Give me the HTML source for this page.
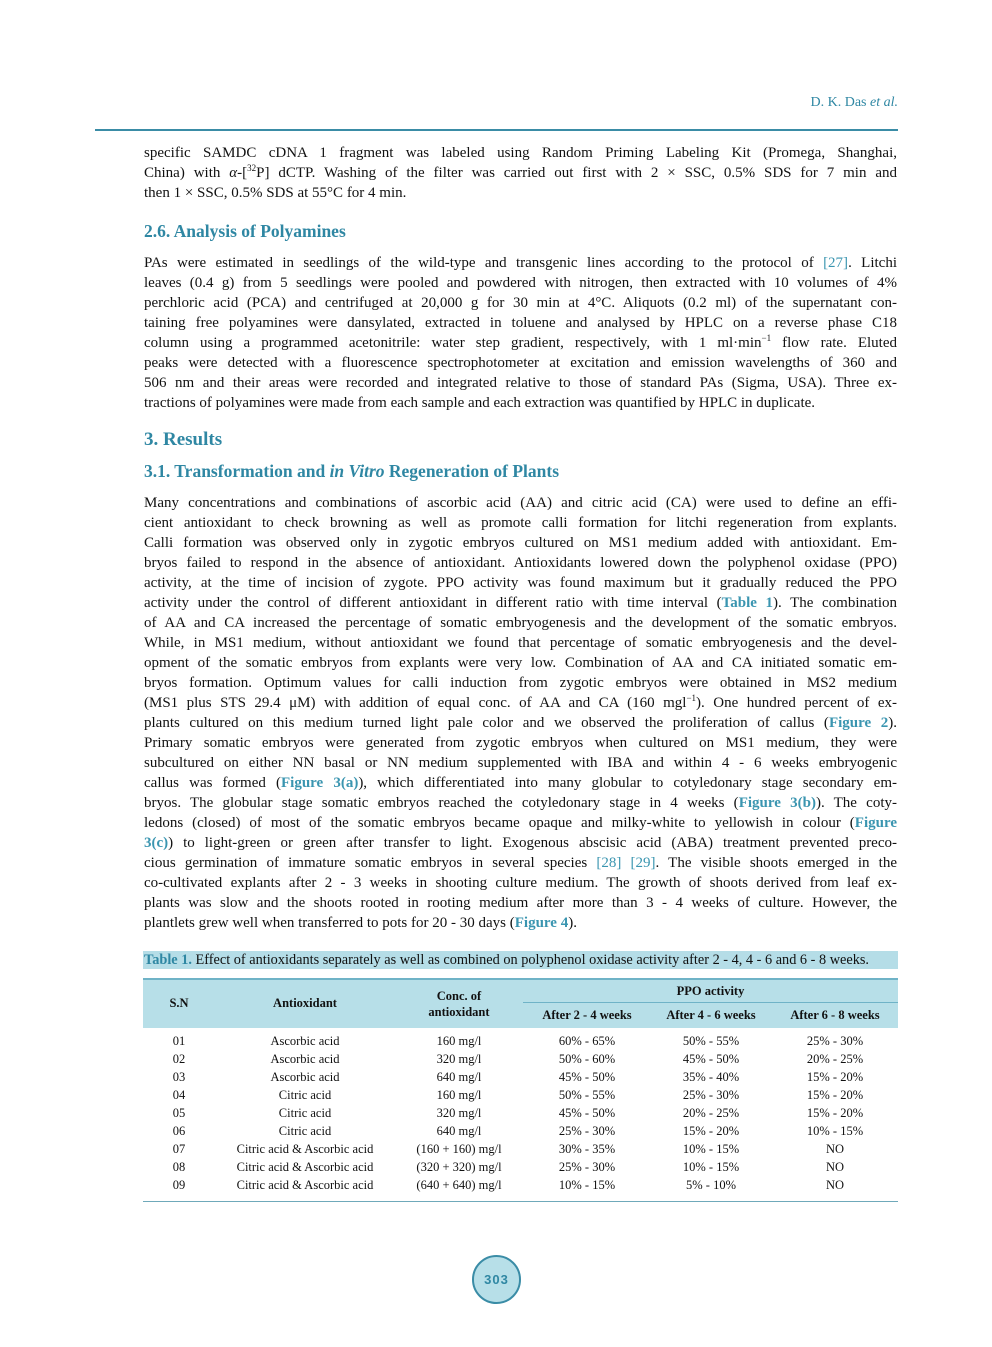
<!DOCTYPE html>
<html><head><meta charset="utf-8"><style>
body{margin:0;background:#fff;}
#p{position:relative;width:992px;height:1347px;overflow:hidden;font-family:"Liberation Serif",serif;color:#111;}
.l{position:absolute;left:144px;width:753px;height:20px;line-height:20px;font-size:15px;text-align:justify;text-align-last:justify;white-space:nowrap;}
.l.e{text-align-last:left;}
.h{position:absolute;left:144px;font-weight:bold;color:#2f87a3;white-space:nowrap;}
.c{color:#3a95b0;}
.cb{color:#3a95b0;font-weight:bold;}
.t{position:absolute;font-size:12.5px;line-height:18px;text-align:center;white-space:nowrap;}
.th{position:absolute;font-size:12.5px;font-weight:bold;text-align:center;line-height:16px;}
sup{font-size:9px;line-height:0;}
</style></head><body><div id="p">
<div style="position:absolute;right:94px;top:95px;font-size:14px;color:#2f87a3;">D. K. Das <i>et al.</i></div>
<div style="position:absolute;left:95px;top:129px;width:803px;height:2px;background:#3a8ca6;"></div>

<div class="l" style="top:143px">specific SAMDC cDNA 1 fragment was labeled using Random Priming Labeling Kit (Promega, Shanghai,</div>
<div class="l" style="top:163px">China) with <i>α</i>-[<sup>32</sup>P] dCTP. Washing of the filter was carried out first with 2 × SSC, 0.5% SDS for 7 min and</div>
<div class="l e" style="top:183px">then 1 × SSC, 0.5% SDS at 55°C for 4 min.</div>

<div class="h" style="top:221px;font-size:17.5px;">2.6. Analysis of Polyamines</div>

<div class="l" style="top:253px">PAs were estimated in seedlings of the wild-type and transgenic lines according to the protocol of <span class="c">[27]</span>. Litchi</div>
<div class="l" style="top:273px">leaves (0.4 g) from 5 seedlings were pooled and powdered with nitrogen, then extracted with 10 volumes of 4%</div>
<div class="l" style="top:293px">perchloric acid (PCA) and centrifuged at 20,000 g for 30 min at 4°C. Aliquots (0.2 ml) of the supernatant con-</div>
<div class="l" style="top:313px">taining free polyamines were dansylated, extracted in toluene and analysed by HPLC on a reverse phase C18</div>
<div class="l" style="top:333px">column using a programmed acetonitrile: water step gradient, respectively, with 1 ml·min<sup>−1</sup> flow rate. Eluted</div>
<div class="l" style="top:353px">peaks were detected with a fluorescence spectrophotometer at excitation and emission wavelengths of 360 and</div>
<div class="l" style="top:373px">506 nm and their areas were recorded and integrated relative to those of standard PAs (Sigma, USA). Three ex-</div>
<div class="l e" style="top:393px">tractions of polyamines were made from each sample and each extraction was quantified by HPLC in duplicate.</div>

<div class="h" style="top:429px;font-size:19px;">3. Results</div>
<div class="h" style="top:461px;font-size:17.5px;">3.1. Transformation and <i>in Vitro</i> Regeneration of Plants</div>

<div class="l" style="top:493px">Many concentrations and combinations of ascorbic acid (AA) and citric acid (CA) were used to define an effi-</div>
<div class="l" style="top:513px">cient antioxidant to check browning as well as promote calli formation for litchi regeneration from explants.</div>
<div class="l" style="top:533px">Calli formation was observed only in zygotic embryos cultured on MS1 medium added with antioxidant. Em-</div>
<div class="l" style="top:553px">bryos failed to respond in the absence of antioxidant. Antioxidants lowered down the polyphenol oxidase (PPO)</div>
<div class="l" style="top:573px">activity, at the time of incision of zygote. PPO activity was found maximum but it gradually reduced the PPO</div>
<div class="l" style="top:593px">activity under the control of different antioxidant in different ratio with time interval (<span class="cb">Table 1</span>). The combination</div>
<div class="l" style="top:613px">of AA and CA increased the percentage of somatic embryogenesis and the development of the somatic embryos.</div>
<div class="l" style="top:633px">While, in MS1 medium, without antioxidant we found that percentage of somatic embryogenesis and the devel-</div>
<div class="l" style="top:653px">opment of the somatic embryos from explants were very low. Combination of AA and CA initiated somatic em-</div>
<div class="l" style="top:673px">bryos formation. Optimum values for calli induction from zygotic embryos were obtained in MS2 medium</div>
<div class="l" style="top:693px">(MS1 plus STS 29.4 μM) with addition of equal conc. of AA and CA (160 mgl<sup>−1</sup>). One hundred percent of ex-</div>
<div class="l" style="top:713px">plants cultured on this medium turned light pale color and we observed the proliferation of callus (<span class="cb">Figure 2</span>).</div>
<div class="l" style="top:733px">Primary somatic embryos were generated from zygotic embryos when cultured on MS1 medium, they were</div>
<div class="l" style="top:753px">subcultured on either NN basal or NN medium supplemented with IBA and within 4 - 6 weeks embryogenic</div>
<div class="l" style="top:773px">callus was formed (<span class="cb">Figure 3(a)</span>), which differentiated into many globular to cotyledonary stage secondary em-</div>
<div class="l" style="top:793px">bryos. The globular stage somatic embryos reached the cotyledonary stage in 4 weeks (<span class="cb">Figure 3(b)</span>). The coty-</div>
<div class="l" style="top:813px">ledons (closed) of most of the somatic embryos became opaque and milky-white to yellowish in colour (<span class="cb">Figure</span></div>
<div class="l" style="top:833px"><span class="cb">3(c)</span>) to light-green or green after transfer to light. Exogenous abscisic acid (ABA) treatment prevented preco-</div>
<div class="l" style="top:853px">cious germination of immature somatic embryos in several species <span class="c">[28] [29]</span>. The visible shoots emerged in the</div>
<div class="l" style="top:873px">co-cultivated explants after 2 - 3 weeks in shooting culture medium. The growth of shoots derived from leaf ex-</div>
<div class="l" style="top:893px">plants was slow and the shoots rooted in rooting medium after more than 3 - 4 weeks of culture. However, the</div>
<div class="l e" style="top:913px">plantlets grew well when transferred to pots for 20 - 30 days (<span class="cb">Figure 4</span>).</div>

<div style="position:absolute;left:143px;top:951px;width:755px;height:18px;background:#b5dde7;"></div>
<div style="position:absolute;left:144px;top:951px;height:18px;line-height:18px;font-size:14.3px;white-space:nowrap;"><span style="color:#2f87a3;font-weight:bold;">Table 1.</span> Effect of antioxidants separately as well as combined on polyphenol oxidase activity after 2 - 4, 4 - 6 and 6 - 8 weeks.</div>

<div style="position:absolute;left:143px;top:978px;width:755px;height:48px;background:#b7dfe8;border-top:2px solid #6fb3c7;"></div>
<div style="position:absolute;left:523px;top:1002px;width:375px;height:1px;background:#6fb3c7;"></div>
<div class="th" style="left:139px;width:80px;top:995px;">S.N</div>
<div class="th" style="left:245px;width:120px;top:995px;">Antioxidant</div>
<div class="th" style="left:399px;width:120px;top:988px;">Conc. of<br>antioxidant</div>
<div class="th" style="left:523px;width:375px;top:983px;">PPO activity</div>
<div class="th" style="left:527px;width:120px;top:1007px;">After 2 - 4 weeks</div>
<div class="th" style="left:651px;width:120px;top:1007px;">After 4 - 6 weeks</div>
<div class="th" style="left:775px;width:120px;top:1007px;">After 6 - 8 weeks</div>

<div class="t" style="left:139px;width:80px;top:1032px;">01<br>02<br>03<br>04<br>05<br>06<br>07<br>08<br>09</div>
<div class="t" style="left:215px;width:180px;top:1032px;">Ascorbic acid<br>Ascorbic acid<br>Ascorbic acid<br>Citric acid<br>Citric acid<br>Citric acid<br>Citric acid &amp; Ascorbic acid<br>Citric acid &amp; Ascorbic acid<br>Citric acid &amp; Ascorbic acid</div>
<div class="t" style="left:399px;width:120px;top:1032px;">160 mg/l<br>320 mg/l<br>640 mg/l<br>160 mg/l<br>320 mg/l<br>640 mg/l<br>(160 + 160) mg/l<br>(320 + 320) mg/l<br>(640 + 640) mg/l</div>
<div class="t" style="left:527px;width:120px;top:1032px;">60% - 65%<br>50% - 60%<br>45% - 50%<br>50% - 55%<br>45% - 50%<br>25% - 30%<br>30% - 35%<br>25% - 30%<br>10% - 15%</div>
<div class="t" style="left:651px;width:120px;top:1032px;">50% - 55%<br>45% - 50%<br>35% - 40%<br>25% - 30%<br>20% - 25%<br>15% - 20%<br>10% - 15%<br>10% - 15%<br>5% - 10%</div>
<div class="t" style="left:775px;width:120px;top:1032px;">25% - 30%<br>20% - 25%<br>15% - 20%<br>15% - 20%<br>15% - 20%<br>10% - 15%<br>NO<br>NO<br>NO</div>
<div style="position:absolute;left:143px;top:1201px;width:755px;height:1px;background:#6fa9ba;"></div>

<div style="position:absolute;left:472px;top:1255px;width:45px;height:45px;border:2px solid #3a8ca6;border-radius:50%;background:#b7dfe8;text-align:center;line-height:45px;font-family:'Liberation Sans',sans-serif;font-size:13px;font-weight:bold;color:#2f87a3;letter-spacing:1px;">303</div>
</div></body></html>
